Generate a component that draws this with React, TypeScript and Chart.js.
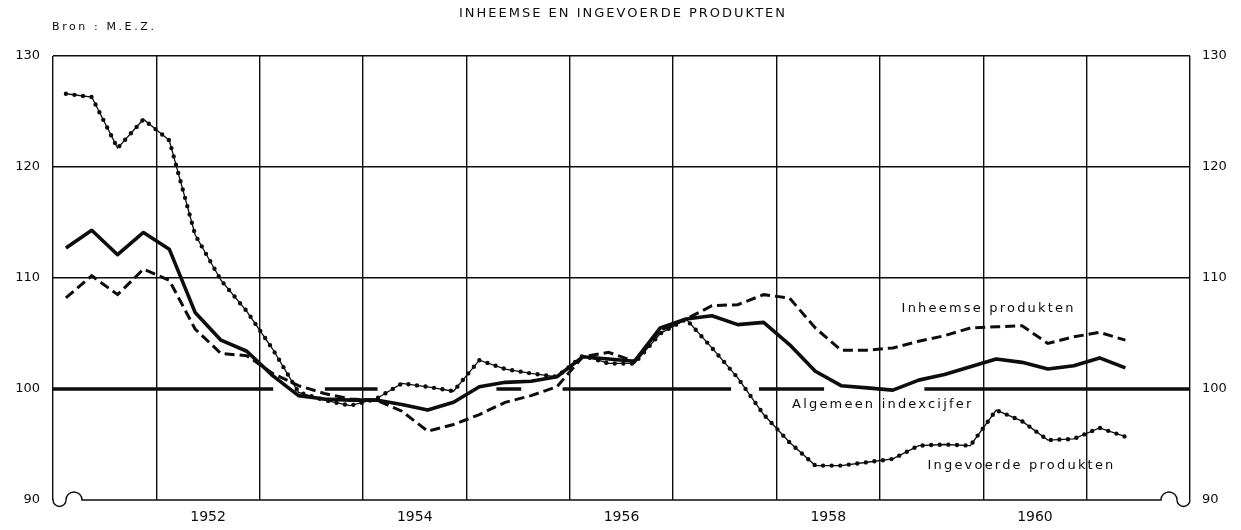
import React, { useEffect, useRef } from 'react';
import { Chart, registerables } from 'chart.js';

Chart.register(...registerables);

// ---- Data (quarterly index numbers) ----
const years = [1951, 1952, 1953, 1954, 1955, 1956, 1957, 1958, 1959, 1960, 1961];
const quarters = [1, 2, 3, 4];
const quarterKeys = years.flatMap((y) => quarters.map((q) => `${y}-K${q}`)).slice(0, 42);

const algemeen = [
  112.7, 114.3, 112.1, 114.1, 112.6, 106.9, 104.4, 103.4, 101.2, 99.4,
  99.1, 99.0, 99.0, 98.6, 98.1, 98.8, 100.2, 100.6, 100.7, 101.1,
  102.9, 102.7, 102.5, 105.5, 106.3, 106.6, 105.8, 106.0, 104.0, 101.6,
  100.3, 100.1, 99.9, 100.8, 101.3, 102.0, 102.7, 102.4, 101.8, 102.1,
  102.8, 101.9,
];

const inheemse = [
  108.2, 110.2, 108.5, 110.8, 109.8, 105.4, 103.2, 103.0, 101.4, 100.3,
  99.6, 99.1, 99.0, 98.0, 96.2, 96.8, 97.7, 98.8, 99.4, 100.2,
  102.9, 103.3, 102.5, 105.3, 106.3, 107.5, 107.6, 108.5, 108.2, 105.5,
  103.5, 103.5, 103.7, 104.3, 104.8, 105.5, 105.6, 105.7, 104.1, 104.7,
  105.1, 104.4,
];

const ingevoerde = [
  126.6, 126.3, 121.7, 124.3, 122.4, 113.9, 109.8, 107.0, 103.6, 99.7,
  99.0, 98.5, 99.1, 100.5, 100.2, 99.8, 102.6, 101.8, 101.4, 101.1,
  103.0, 102.3, 102.3, 105.0, 106.3, 103.7, 101.0, 97.7, 95.2, 93.1,
  93.1, 93.4, 93.7, 94.9, 95.0, 94.9, 98.1, 97.1, 95.4, 95.5,
  96.5, 95.7,
];

// reference line at 100 (drawn in pieces, as in the original print)
const baselineSegments: [number, number][] = [
  [1951.0, 1953.13],
  [1953.63, 1954.14],
  [1955.29, 1955.53],
  [1955.93, 1957.56],
  [1957.83, 1958.46],
  [1959.43, 1962.0],
];

const yTicks = [90, 100, 110, 120, 130];
const yearLabels = ['1952', '1954', '1956', '1958', '1960'];
const gridYears = [1951, 1952, 1953, 1954, 1955, 1956, 1957, 1958, 1959, 1960, 1961, 1962];

const titleText = 'INHEEMSE EN INGEVOERDE PRODUKTEN';
const sourceText = 'Bron : M.E.Z.';
const seriesLabels = [
  { text: 'Inheemse produkten', x: 1959.21, y: 107.2 },
  { text: 'Algemeen indexcijfer', x: 1958.15, y: 98.6 },
  { text: 'Ingevoerde produkten', x: 1959.46, y: 93.1 },
];

const INK = '#0d0d0d';
const FONT = '"DejaVu Sans", "Liberation Sans", sans-serif';

function keyToX(k: string): number {
  const [y, q] = k.split('-K');
  return Number(y) + (Number(q) - 0.5) / 4;
}

function toPoints(values: number[]) {
  return quarterKeys.map((k, i) => ({ x: keyToX(k), y: values[i] }));
}

const decorPlugin = {
  id: 'decor',
  afterDraw(chart: any) {
    const { ctx, chartArea: a, scales } = chart;
    ctx.save();
    // bottom frame line with curls at both ends
    ctx.strokeStyle = INK;
    ctx.lineWidth = 1.4;
    ctx.beginPath();
    ctx.moveTo(a.left, a.bottom - 1);
    ctx.arc(a.left + 6.5, a.bottom, 6.5, Math.PI, 0, true);
    ctx.arc(a.left + 21, a.bottom, 8, Math.PI, 2 * Math.PI, false);
    ctx.lineTo(a.right - 29, a.bottom);
    ctx.arc(a.right - 21, a.bottom, 8, Math.PI, 2 * Math.PI, false);
    ctx.arc(a.right - 6.5, a.bottom, 6.5, Math.PI, 0, true);
    ctx.stroke();

    ctx.fillStyle = INK;
    ctx.textBaseline = 'middle';
    ctx.textAlign = 'left';

    // title
    ctx.font = `500 13px ${FONT}`;
    (ctx as any).letterSpacing = '2px';
    ctx.fillText(titleText, 459, 14);

    // source
    ctx.font = `11px ${FONT}`;
    (ctx as any).letterSpacing = '2.6px';
    ctx.fillText(sourceText, 52, 27);

    // series labels
    ctx.font = `13px ${FONT}`;
    (ctx as any).letterSpacing = '2.2px';
    for (const l of seriesLabels) {
      ctx.fillText(l.text, scales.x.getPixelForValue(l.x), scales.y.getPixelForValue(l.y));
    }
    ctx.restore();
  },
};

export default function App() {
  const canvasRef = useRef<HTMLCanvasElement | null>(null);

  useEffect(() => {
    const canvas = canvasRef.current;
    if (!canvas) return;

    const baselineData = baselineSegments.flatMap(([s, e]) => [
      { x: s, y: 100 },
      { x: e, y: 100 },
      { x: e, y: null as any },
    ]);

    const chart = new Chart(canvas, {
      type: 'line',
      data: {
        datasets: [
          {
            label: 'basis 100',
            data: baselineData,
            borderColor: INK,
            borderWidth: 3.5,
            pointRadius: 0,
            spanGaps: false,
            borderCapStyle: 'butt',
          },
          {
            label: 'Algemeen indexcijfer',
            data: toPoints(algemeen),
            borderColor: INK,
            borderWidth: 3.6,
            pointRadius: 0,
            tension: 0,
            borderJoinStyle: 'round',
          },
          {
            label: 'Inheemse produkten',
            data: toPoints(inheemse),
            borderColor: INK,
            borderWidth: 3,
            borderDash: [10, 5],
            pointRadius: 0,
            tension: 0,
          },
          {
            label: 'Ingevoerde produkten',
            data: toPoints(ingevoerde),
            borderColor: INK,
            borderWidth: 1.3,
            pointRadius: 0,
            tension: 0,
          },
          {
            label: 'Ingevoerde produkten (punten)',
            data: toPoints(ingevoerde),
            borderColor: INK,
            borderWidth: 4.4,
            borderDash: [0, 8.6],
            borderCapStyle: 'round',
            pointRadius: 0,
            tension: 0,
          },
        ],
      },
      options: {
        responsive: false,
        animation: false,
        layout: { padding: { top: 56, left: 0, right: 0, bottom: 0 } },
        plugins: {
          legend: { display: false },
          tooltip: { enabled: false },
          title: { display: false },
        },
        scales: {
          x: {
            type: 'linear',
            min: 1951,
            max: 1962,
            afterBuildTicks: (s: any) => {
              const vals = [...gridYears, ...yearLabels.map((l) => Number(l) + 0.5)].sort((p, q) => p - q);
              s.ticks = vals.map((v) => ({ value: v }));
            },
            afterFit: (s: any) => {
              s.height = 30;
            },
            ticks: {
              autoSkip: false,
              maxRotation: 0,
              padding: 9,
              color: INK,
              font: { family: FONT, size: 14 },
              callback: (v: any) => (Number(v) % 1 !== 0 ? String(Math.floor(Number(v))) : ''),
            },
            grid: {
              color: (c: any) => (c.tick && Number(c.tick.value) % 1 === 0 ? INK : 'rgba(0,0,0,0)'),
              lineWidth: 1.4,
              drawTicks: false,
            },
            border: { display: false },
          },
          y: {
            type: 'linear',
            position: 'left',
            min: 90,
            max: 130,
            afterBuildTicks: (s: any) => {
              s.ticks = yTicks.map((v) => ({ value: v }));
            },
            afterFit: (s: any) => {
              s.width = 53;
            },
            ticks: { padding: 13, color: INK, font: { family: FONT, size: 13 } },
            grid: {
              color: (c: any) =>
                c.tick && (c.tick.value === 100 || c.tick.value === 90) ? 'rgba(0,0,0,0)' : INK,
              lineWidth: 1.4,
              drawTicks: false,
            },
            border: { display: false },
          },
          y2: {
            type: 'linear',
            position: 'right',
            min: 90,
            max: 130,
            afterBuildTicks: (s: any) => {
              s.ticks = yTicks.map((v) => ({ value: v }));
            },
            afterFit: (s: any) => {
              s.width = 51;
            },
            ticks: { padding: 12, color: INK, font: { family: FONT, size: 13 } },
            grid: { display: false, drawTicks: false },
            border: { display: false },
          },
        },
      },
      plugins: [decorPlugin],
    } as any);

    return () => chart.destroy();
  }, []);

  return (
    <div style={{ position: 'fixed', left: 0, top: 0, width: 1241, height: 530, background: '#fff' }}>
      <canvas ref={canvasRef} width={1241} height={530} style={{ display: 'block' }} />
    </div>
  );
}
